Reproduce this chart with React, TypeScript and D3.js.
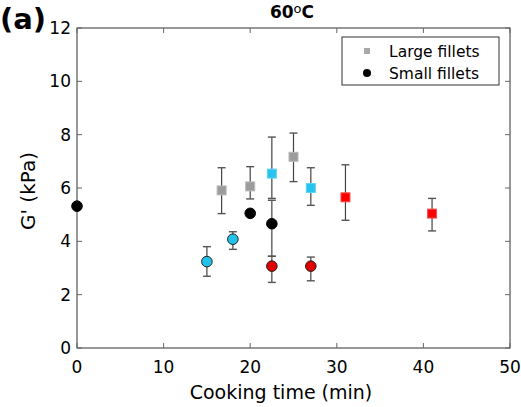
import React, { useEffect, useRef } from 'react';
import * as d3 from 'd3';

// Large fillets (squares)
const largeTime = [16.7, 20, 22.5, 25, 27, 31, 41];
const largeG = [5.91, 6.06, 6.54, 7.17, 6.0, 5.65, 5.04];
const largeHi = [6.76, 6.8, 7.91, 8.06, 6.76, 6.87, 5.61];
const largeLo = [5.04, 5.59, 5.61, 6.24, 5.35, 4.79, 4.39];
const largeColor = ['grey', 'grey', 'cyan', 'grey', 'cyan', 'red', 'red'];

// Small fillets (circles)
const smallTime = [0, 15, 18, 20, 22.5, 22.5, 27];
const smallG = [5.32, 3.24, 4.08, 5.05, 4.66, 3.07, 3.07];
const smallHi = [5.32, 3.8, 4.36, 5.05, 5.54, 3.44, 3.41];
const smallLo = [5.32, 2.69, 3.7, 5.05, 3.44, 2.46, 2.52];
const smallColor = ['black', 'cyan', 'cyan', 'black', 'black', 'red', 'red'];

const xTicks = [0, 10, 20, 30, 40, 50];
const yTicks = [0, 2, 4, 6, 8, 10, 12];

const sqFill: Record<string, string> = { grey: '#9c9c9c', cyan: '#28c3ef', red: '#fb0000' };
const sqStroke: Record<string, string> = { grey: '#b8b8b8', cyan: '#5fd3f3', red: '#ff5050' };
const ciFill: Record<string, string> = { black: '#000', cyan: '#22c2ea', red: '#e00000' };

const App = () => {
  const ref = useRef<SVGSVGElement>(null);

  useEffect(() => {
    const svg = d3.select(ref.current);
    svg.selectAll('*').remove();
    const font = 'Verdana, "DejaVu Sans", sans-serif';

    const x = d3.scaleLinear().domain([0, 50]).range([77, 510]);
    const y = d3.scaleLinear().domain([0, 12]).range([348, 28]);

    svg.append('rect').attr('width', 521).attr('height', 407).attr('fill', '#fff');

    // frame + inward ticks
    const g = svg.append('g');
    g.append('rect')
      .attr('x', x(0)).attr('y', y(12))
      .attr('width', x(50) - x(0)).attr('height', y(0) - y(12))
      .attr('fill', 'none').attr('stroke', '#333').attr('stroke-width', 1);
    xTicks.forEach(t => {
      g.append('line').attr('x1', x(t)).attr('x2', x(t)).attr('y1', y(0)).attr('y2', y(0) - 5).attr('stroke', '#666');
      g.append('line').attr('x1', x(t)).attr('x2', x(t)).attr('y1', y(12)).attr('y2', y(12) + 5).attr('stroke', '#666');
      g.append('text').attr('x', x(t)).attr('y', 373).attr('text-anchor', 'middle')
        .attr('font-family', font).attr('font-size', 17).text(t);
    });
    yTicks.forEach(t => {
      g.append('line').attr('x1', x(0)).attr('x2', x(0) + 5).attr('y1', y(t)).attr('y2', y(t)).attr('stroke', '#666');
      g.append('line').attr('x1', x(50)).attr('x2', x(50) - 5).attr('y1', y(t)).attr('y2', y(t)).attr('stroke', '#666');
      g.append('text').attr('x', 71).attr('y', y(t) + 6).attr('text-anchor', 'end')
        .attr('font-family', font).attr('font-size', 17).text(t);
    });

    // labels
    svg.append('text').attr('x', 281).attr('y', 399).attr('text-anchor', 'middle')
      .attr('font-family', font).attr('font-size', 19).text('Cooking time (min)');
    svg.append('text').attr('transform', 'translate(35,191) rotate(-90)').attr('text-anchor', 'middle')
      .attr('font-family', font).attr('font-size', 20).text("G' (kPa)");
    const title = svg.append('text').attr('x', 292).attr('y', 18).attr('text-anchor', 'middle')
      .attr('font-family', font).attr('font-size', 17).attr('font-weight', 'bold');
    title.append('tspan').text('60');
    title.append('tspan').attr('font-size', 13).attr('font-weight', 'normal').attr('dy', -5).text('o');
    title.append('tspan').attr('dy', 5).text('C');
    svg.append('text').attr('x', 0).attr('y', 29)
      .attr('font-family', font).attr('font-size', 29).attr('font-weight', 'bold').text('(a)');

    // error bars
    const errBar = (t: number, lo: number, hi: number) => {
      if (hi - lo < 0.01) return;
      const cx = x(t);
      g.append('line').attr('x1', cx).attr('x2', cx).attr('y1', y(lo)).attr('y2', y(hi)).attr('stroke', '#444').attr('stroke-width', 1.2);
      [lo, hi].forEach(v => {
        g.append('line').attr('x1', cx - 4).attr('x2', cx + 4).attr('y1', y(v)).attr('y2', y(v)).attr('stroke', '#555').attr('stroke-width', 1.4);
      });
    };
    largeTime.forEach((t, i) => errBar(t, largeLo[i], largeHi[i]));
    smallTime.forEach((t, i) => errBar(t, smallLo[i], smallHi[i]));

    // squares
    largeTime.forEach((t, i) => {
      const c = largeColor[i];
      g.append('rect').attr('x', x(t) - 4.5).attr('y', y(largeG[i]) - 4.5).attr('width', 9).attr('height', 9)
        .attr('fill', sqFill[c]).attr('stroke', sqStroke[c]).attr('stroke-width', 1);
    });
    // circles
    smallTime.forEach((t, i) => {
      const c = smallColor[i];
      g.append('circle').attr('cx', x(t)).attr('cy', y(smallG[i])).attr('r', 5.3)
        .attr('fill', ciFill[c]).attr('stroke', c === 'black' ? '#000' : '#222').attr('stroke-width', 1);
    });

    // legend
    const lg = svg.append('g');
    lg.append('rect').attr('x', 342).attr('y', 37).attr('width', 157).attr('height', 48)
      .attr('fill', '#fff').attr('stroke', '#333').attr('stroke-width', 1);
    lg.append('rect').attr('x', 364).attr('y', 48).attr('width', 6).attr('height', 6).attr('fill', '#a8a8a8');
    lg.append('circle').attr('cx', 367).attr('cy', 73).attr('r', 4).attr('fill', '#000');
    lg.append('text').attr('x', 389).attr('y', 57).attr('font-family', font).attr('font-size', 15.5).text('Large fillets');
    lg.append('text').attr('x', 389).attr('y', 79).attr('font-family', font).attr('font-size', 15.5).text('Small fillets');
  }, []);

  return <svg ref={ref} width={521} height={407} style={{ position: 'absolute', left: 0, top: 0 }} />;
};

export default App;
